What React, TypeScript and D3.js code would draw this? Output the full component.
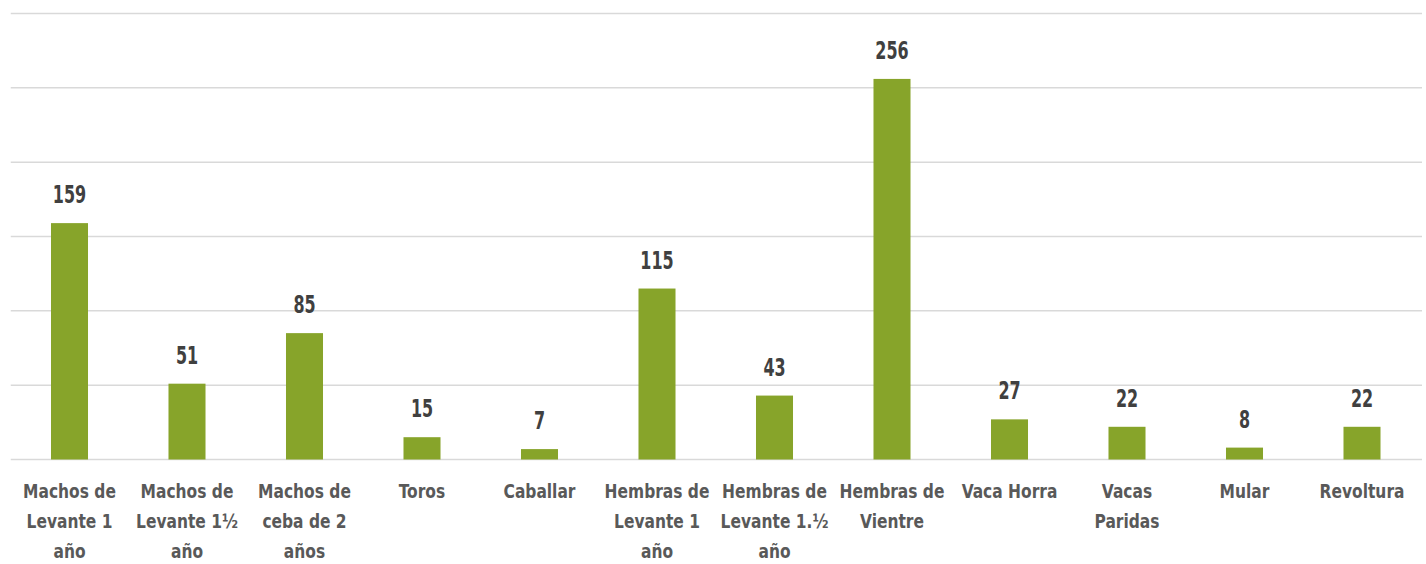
import React from 'react';
import * as d3 from 'd3';

// categories (line breaks as in the original chart)
const categories: string[][] = [
  ['Machos de', 'Levante 1', 'año'],
  ['Machos de', 'Levante 1½', 'año'],
  ['Machos de', 'ceba de 2', 'años'],
  ['Toros'],
  ['Caballar'],
  ['Hembras de', 'Levante 1', 'año'],
  ['Hembras de', 'Levante 1.½', 'año'],
  ['Hembras de', 'Vientre'],
  ['Vaca Horra'],
  ['Vacas', 'Paridas'],
  ['Mular'],
  ['Revoltura'],
];

const values: number[] = [159, 51, 85, 15, 7, 115, 43, 256, 27, 22, 8, 22];

const yTicks: number[] = [0, 50, 100, 150, 200, 250, 300];

const WIDTH = 1426;
const HEIGHT = 564;
// no condensed bold font is installed, so squeeze DejaVu Sans Condensed a bit more
const FONT = '"DejaVu Sans Condensed", "DejaVu Sans", sans-serif';

export default function App() {
  const margin = { top: 13.5, right: 5, bottom: 104.5, left: 10.75 };
  const plotW = 1420.75 - margin.left;
  const plotH = HEIGHT - margin.top - margin.bottom;

  const x = d3
    .scaleBand<number>()
    .domain(d3.range(values.length))
    .range([margin.left, margin.left + plotW])
    .paddingInner(0.685)
    .paddingOuter(0.3425);

  const y = d3
    .scaleLinear()
    .domain([0, 300])
    .range([margin.top + plotH, margin.top]);

  const cx = (i: number) => (x(i) as number) + x.bandwidth() / 2;

  return (
    <svg
      width={WIDTH}
      height={HEIGHT}
      style={{ position: 'absolute', left: 0, top: 0, background: '#ffffff' }}
    >
      {/* grid lines */}
      {yTicks.map((t) => (
        <line
          key={t}
          x1={margin.left}
          x2={1422}
          y1={y(t)}
          y2={y(t)}
          stroke="#d9d9d9"
          strokeWidth={1.5}
        />
      ))}

      {/* bars */}
      {values.map((v, i) => (
        <rect
          key={i}
          x={x(i)}
          y={y(v)}
          width={x.bandwidth()}
          height={y(0) - y(v)}
          fill="#87a42a"
        />
      ))}

      {/* value labels */}
      {values.map((v, i) => (
        <g key={i} transform={`translate(${cx(i)},${y(v) - 20}) scale(0.74,1)`}>
          <text
            textAnchor="middle"
            fontFamily={FONT}
            fontWeight="bold"
            fontSize={24}
            fill="#404040"
          >
            {v}
          </text>
        </g>
      ))}

      {/* category labels */}
      {categories.map((lines, i) => (
        <g key={i} transform={`translate(${cx(i)},498) scale(0.86,1)`}>
          <text
            textAnchor="middle"
            fontFamily={FONT}
            fontWeight="bold"
            fontSize={20}
            fill="#595959"
          >
            {lines.map((l, j) => (
              <tspan key={j} x={0} y={j * 30}>
                {l}
              </tspan>
            ))}
          </text>
        </g>
      ))}
    </svg>
  );
}
